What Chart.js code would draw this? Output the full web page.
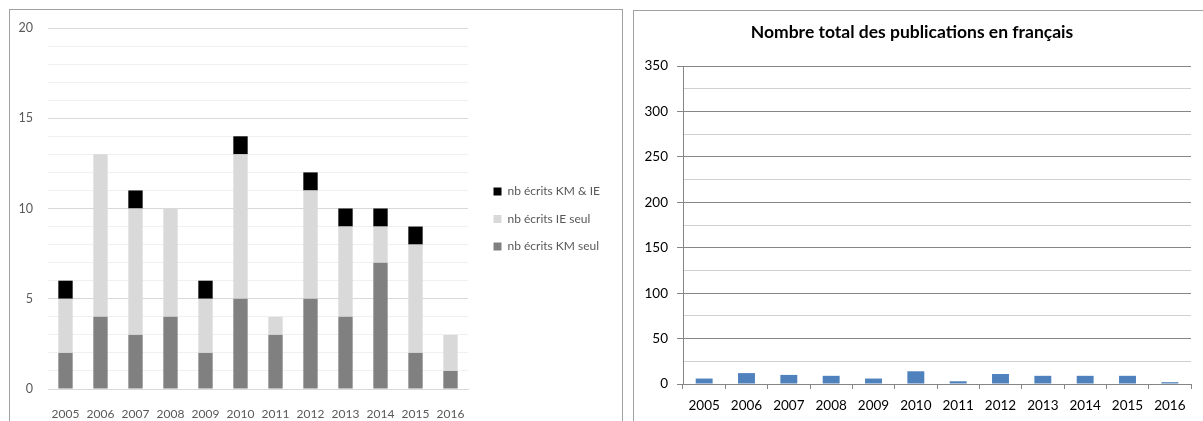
<!DOCTYPE html>
<html>
<head>
<meta charset="utf-8">
<script src="https://cdn.jsdelivr.net/npm/chart.js@4/dist/chart.umd.min.js"></script>
<style>
  body { margin:0; background:#fff; width:1203px; height:421px; overflow:hidden; position:relative; }
  .frame { position:absolute; border:1px solid #a0a0a0; box-sizing:border-box; }
  canvas { position:absolute; top:0; }
</style>
</head>
<body>
<div class="frame" style="left:9px; top:9px; width:614px; height:440px;"></div>
<div class="frame" style="left:633px; top:10px; width:600px; height:440px;"></div>
<canvas id="chartStack" width="622" height="421" style="left:0"></canvas>
<canvas id="chartTotal" width="570" height="421" style="left:633px"></canvas>
<script>
const YEARS = ['2005','2006','2007','2008','2009','2010','2011','2012','2013','2014','2015','2016'];
const KM_SEUL  = [2, 4, 3, 4, 2, 5, 3, 5, 4, 7, 2, 1];
const IE_SEUL  = [3, 9, 7, 6, 3, 8, 1, 6, 5, 2, 6, 2];
const KM_ET_IE = [1, 0, 1, 0, 1, 1, 0, 1, 1, 1, 1, 0];
const TOTAL_FR = [6, 12, 10, 9, 6, 14, 3, 11, 9, 9, 9, 2];
const TITRE = 'Nombre total des publications en français';

Chart.defaults.font.family = 'Lato, "Open Sans", sans-serif';

// legend sits outside the plot, placed by hand after layout
const moveLegend = {
  id: 'moveLegend',
  afterLayout(chart){
    const lg = chart.legend;
    const w = lg.width, h = lg.height;
    lg.left = 478; lg.right = lg.left + w;
    lg.top = 170; lg.bottom = lg.top + h;
  }
};

new Chart(document.getElementById('chartStack'), {
  type: 'bar',
  data: {
    labels: YEARS,
    datasets: [
      { label: 'nb écrits KM seul', data: KM_SEUL, backgroundColor: '#808080' },
      { label: 'nb écrits IE seul', data: IE_SEUL, backgroundColor: '#d9d9d9' },
      { label: 'nb écrits KM & IE', data: KM_ET_IE, backgroundColor: '#000000' }
    ]
  },
  options: {
    responsive:false, animation:false, devicePixelRatio:1,
    layout: { padding: { left:0, top:28, right:154, bottom:0 } },
    datasets: { bar: { categoryPercentage:1, barPercentage:0.41 } },
    scales: {
      x: {
        stacked:true,
        grid:{ display:false },
        border:{ display:true, color:'#d9d9d9' },
        ticks:{ color:'#595959', font:{ size:12 }, padding:10, maxRotation:0, autoSkip:false },
        afterFit(s){ s.height = 32; }
      },
      y: {
        stacked:true, min:0, max:20,
        border:{ display:false },
        grid:{ drawTicks:false, color: c => (c.tick.value % 5 === 0 ? '#d9d9d9' : '#f0f0f0') },
        ticks:{ stepSize:1, autoSkip:false, color:'#595959', font:{ size:12.5 }, padding:15,
                callback: v => (v % 5 === 0 ? v : '') },
        afterFit(s){ s.width = 48; }
      }
    },
    plugins: {
      legend: {
        position:'chartArea', align:'start', reverse:true,
        labels:{ boxWidth:8, boxHeight:8, padding:15.5, color:'#595959', font:{ size:12 } }
      },
      tooltip:{ enabled:false }
    }
  },
  plugins:[moveLegend]
});

new Chart(document.getElementById('chartTotal'), {
  type: 'bar',
  data: {
    labels: YEARS,
    datasets: [{ label: TITRE, data: TOTAL_FR, backgroundColor: '#4f81bd' }]
  },
  options: {
    responsive:false, animation:false, devicePixelRatio:1,
    layout: { padding: { left:0, top:0, right:12, bottom:0 } },
    datasets: { bar: { categoryPercentage:1, barPercentage:0.4 } },
    scales: {
      x: {
        grid:{ drawOnChartArea:false, drawTicks:true, tickLength:5, color:'#868686' },
        border:{ display:true, color:'#868686' },
        ticks:{ color:'#000', font:{ size:13.5 }, padding:9, maxRotation:0, autoSkip:false },
        afterFit(s){ s.height = 37; }
      },
      y: {
        min:0, max:350,
        border:{ display:true, color:'#868686' },
        grid:{ tickLength:6,
               color: c => (c.tick.value % 50 === 0 ? '#868686' : '#d0d0d0'),
               tickColor: c => (c.tick.value % 50 === 0 ? '#868686' : 'rgba(0,0,0,0)') },
        ticks:{ stepSize:25, autoSkip:false, color:'#000', font:{ size:13.5 }, padding:9,
                callback: v => (v % 50 === 0 ? v : '') },
        afterFit(s){ s.width = 50; }
      }
    },
    plugins: {
      legend:{ display:false },
      title:{ display:true, text:TITRE, color:'#000',
              font:{ size:17.5, weight:'bold' }, padding:{ top:22, bottom:23 } },
      tooltip:{ enabled:false }
    }
  }
});
</script>
</body>
</html>
